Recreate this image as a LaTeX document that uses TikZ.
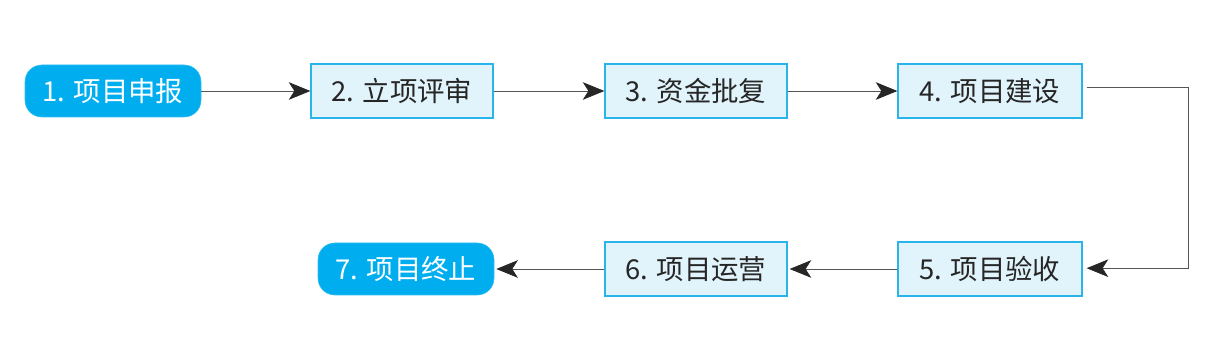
\documentclass[tikz,border=0pt]{standalone}
\usepackage{fontspec}
\setmainfont{Noto Sans CJK SC}
\usepackage{tikz}
\usetikzlibrary{arrows.meta,positioning}
\definecolor{stepcyan}{HTML}{00AEEF}
\definecolor{steplight}{HTML}{E1F3FB}
\definecolor{stepborder}{HTML}{2AB4EC}
\definecolor{linegray}{HTML}{555555}

\begin{document}
\begin{tikzpicture}[
    endpoint/.style={fill=stepcyan, draw=stepcyan!80!white, rounded corners=0.42cm, minimum width=4.4cm, minimum height=1.3cm, text=white, font=\fontsize{19.5}{22}\selectfont},
    stage/.style={fill=steplight, draw=stepborder, line width=0.9pt, minimum width=4.55cm, minimum height=1.35cm, text=black!85, font=\fontsize{19.5}{22}\selectfont},
    arrow/.style={draw=linegray, line width=0.6pt, -{Stealth[length=5.4mm, width=4.4mm, inset=1.4mm, color=black!85, fill=black!85]}}
]
\useasboundingbox (0,0) rectangle (30.6,8.55);

% Stages
\node[endpoint] (report) at (2.825, 6.275) {1. 项目申报};
\node[stage] (review) at (10.05, 6.275) {2. 立项评审};
\node[stage] (fund) at (17.4, 6.275) {3. 资金批复};
\node[stage, minimum width=4.6cm] (build) at (24.75, 6.275) {4. 项目建设};
\node[stage, minimum width=4.6cm] (accept) at (24.75, 1.825) {5. 项目验收};
\node[stage] (operate) at (17.4, 1.825) {6. 项目运营};
\node[endpoint] (close) at (10.15, 1.825) {7. 项目终止};

% Arrows
\draw[arrow] (report) -- (review);
\draw[arrow] (review) -- (fund);
\draw[arrow] (fund) -- (build);
\coordinate (turn) at (29.7, 4.05);
\draw[arrow, shorten <=0.1cm, shorten >=0.1cm] ([yshift=0.08cm]build.east) -| (turn) |- ([yshift=0.02cm]accept.east);
\draw[arrow, shorten >=0.05cm] (accept) -- (operate);
\draw[arrow, shorten >=0.05cm] (operate) -- (close);

\end{tikzpicture}
\end{document}
